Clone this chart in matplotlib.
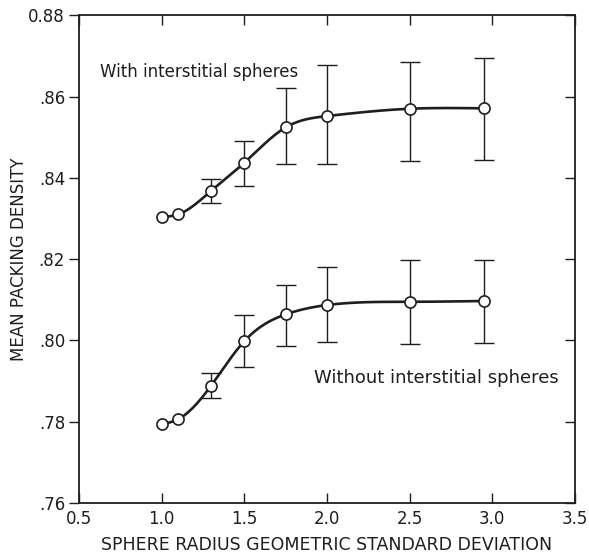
import numpy as np
import matplotlib
matplotlib.use("Agg")
import matplotlib.pyplot as plt
from matplotlib import lines as mlines

# values
sd = [1.0, 1.1, 1.3, 1.5, 1.75, 2.0, 2.5, 2.95]

with_mean = [0.8304, 0.8310, 0.8368, 0.8437, 0.8524, 0.8552, 0.8570, 0.8571]
with_lo = [None, None, 0.8337, 0.8380, 0.8434, 0.8433, 0.8441, 0.8445]
with_hi = [None, None, 0.8397, 0.8490, 0.8620, 0.8677, 0.8684, 0.8695]

without_mean = [0.7794, 0.7806, 0.7889, 0.7998, 0.8064, 0.8087, 0.8095, 0.8097]
without_lo = [None, None, 0.7859, 0.7934, 0.7987, 0.7995, 0.7991, 0.7993]
without_hi = [None, None, 0.7919, 0.8062, 0.8136, 0.8180, 0.8199, 0.8198]

x_ticks = [0.5, 1.0, 1.5, 2.0, 2.5, 3.0, 3.5]
x_labels = ["0.5", "1.0", "1.5", "2.0", "2.5", "3.0", "3.5"]
y_ticks = [0.76, 0.78, 0.80, 0.82, 0.84, 0.86, 0.88]
y_labels = [".76", ".78", ".80", ".82", ".84", ".86", "0.88"]

INK = "#1e1e1e"


def smooth_curve(x, y, xs):
    # natural cubic spline through the measured points (hand-drawn look)
    x = np.asarray(x, float)
    y = np.asarray(y, float)
    n = len(x)
    h = np.diff(x)
    A = np.zeros((n, n))
    b = np.zeros(n)
    A[0, 0] = A[-1, -1] = 1.0
    for i in range(1, n - 1):
        A[i, i - 1] = h[i - 1]
        A[i, i] = 2 * (h[i - 1] + h[i])
        A[i, i + 1] = h[i]
        b[i] = 3 * ((y[i + 1] - y[i]) / h[i] - (y[i] - y[i - 1]) / h[i - 1])
    c = np.linalg.solve(A, b)
    out = np.empty_like(xs)
    for j, xv in enumerate(xs):
        k = min(max(np.searchsorted(x, xv) - 1, 0), n - 2)
        dx = xv - x[k]
        bk = (y[k + 1] - y[k]) / h[k] - h[k] * (2 * c[k] + c[k + 1]) / 3
        dk = (c[k + 1] - c[k]) / (3 * h[k])
        out[j] = y[k] + bk * dx + c[k] * dx**2 + dk * dx**3
    return out


def draw_series(ax, mean, lo, hi):
    xs = np.linspace(sd[0], sd[-1], 400)
    ax.plot(xs, smooth_curve(sd, mean, xs), color=INK, lw=1.9, zorder=2)
    ex = [x for x, l in zip(sd, lo) if l is not None]
    ey = [m for m, l in zip(mean, lo) if l is not None]
    elo = [m - l for m, l in zip(mean, lo) if l is not None]
    ehi = [h - m for m, h in zip(mean, hi) if h is not None]
    ax.errorbar(ex, ey, yerr=[elo, ehi], fmt="none", ecolor=INK,
                elinewidth=1.0, capsize=7, capthick=1.0, zorder=1)
    ax.plot(sd, mean, "o", ms=8, mfc="white", mec=INK, mew=1.2, zorder=3)


fig = plt.figure(figsize=(5.89, 5.58), dpi=100)
ax = fig.add_axes([0.134, 0.0986, 0.842, 0.874])

draw_series(ax, with_mean, with_lo, with_hi)
draw_series(ax, without_mean, without_lo, without_hi)

ax.set_xlim(0.5, 3.5)
ax.set_ylim(0.76, 0.88)
ax.set_xticks(x_ticks)
ax.set_xticklabels(x_labels)
ax.set_yticks(y_ticks)
ax.set_yticklabels(y_labels)

for s in ax.spines.values():
    s.set_linewidth(1.3)
    s.set_color(INK)

ax.tick_params(axis="x", direction="in", top=True, length=7, width=1.0,
               labelsize=12, pad=5, colors=INK)
ax.tick_params(axis="y", direction="out", left=True, right=True, length=7,
               width=1.0, labelsize=12, pad=3, colors=INK)
# right-side ticks point inwards
for t in ax.yaxis.get_major_ticks():
    t.tick2line.set_marker(mlines.TICKLEFT)
    t.tick2line.set_markersize(7)

ax.set_xlabel("SPHERE RADIUS GEOMETRIC STANDARD DEVIATION", fontsize=12.5,
              color=INK)
ax.xaxis.set_label_coords(0.5, -0.068)
ax.set_ylabel("MEAN PACKING DENSITY", fontsize=12, color=INK)
ax.yaxis.set_label_coords(-0.103, 0.5)

ax.text(0.63, 0.866, "With interstitial spheres", fontsize=12, color=INK,
        va="center", ha="left")
ax.text(1.92, 0.7907, "Without interstitial spheres", fontsize=13, color=INK,
        va="center", ha="left")

fig.savefig("out.png", dpi=100)
